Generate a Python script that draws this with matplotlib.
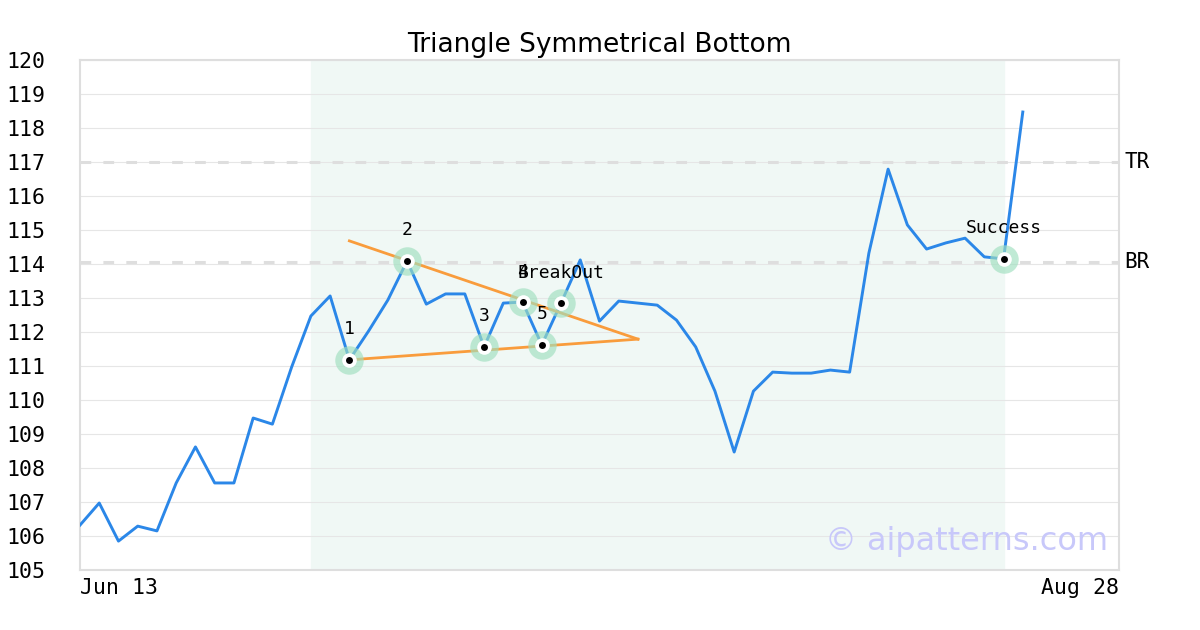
import matplotlib.pyplot as plt

# Dados do gráfico (preço de fechamento por pregão, Jun 13 -> Aug 28)
precos = [106.32, 106.97, 105.85, 106.29, 106.15, 107.56, 108.62, 107.56, 107.56, 109.47,
          109.29, 110.97, 112.47, 113.06, 111.18, 112.03, 112.94, 114.09, 112.82, 113.12,
          113.12, 111.56, 112.85, 112.88, 111.62, 112.85, 114.12, 112.32, 112.91, 112.85,
          112.79, 112.35, 111.56, 110.26, 108.47, 110.26, 110.82, 110.79, 110.79, 110.88,
          110.82, 114.32, 116.79, 115.15, 114.44, 114.62, 114.76, 114.21, 114.15, 118.47]

# Pontos marcados no padrão
pontos_idx = [14, 17, 21, 23, 24, 25, 48]
pontos_txt = ['1', '2', '3', '4', '5', 'BreakOut', 'Success']

# Linhas do triângulo
linha_sup_x = [14, 29]
linha_sup_y = [114.68, 111.79]
linha_inf_x = [14, 29]
linha_inf_y = [111.18, 111.79]

# Níveis de resistência / suporte
nivel_tr = 117.0
nivel_br = 114.07

# Região sombreada do padrão
regiao_inicio = 12
regiao_fim = 48

eixo_x_max = 54
rotulos_x = ['Jun 13', 'Aug 28']

azul = '#2b87e8'
laranja = '#f99c3c'
cinza = '#dedede'

fig = plt.figure(figsize=(12, 6.3), dpi=100)
ax = fig.add_axes([80 / 1200, 60 / 630, 1039 / 1200, 510 / 630])

ax.axvspan(regiao_inicio, regiao_fim, color='#f0f8f5', zorder=0)

for y in range(105, 121):
    ax.axhline(y, color='#e6e6e6', linewidth=0.8, zorder=1)

ax.axhline(nivel_tr, color=cinza, linewidth=2.2, dashes=(3.5, 4), zorder=2)
ax.axhline(nivel_br, color=cinza, linewidth=2.2, dashes=(3.5, 4), zorder=2)

ax.plot(range(len(precos)), precos, color=azul, linewidth=2.1, zorder=3)
ax.plot(linha_sup_x, linha_sup_y, color=laranja, linewidth=2, zorder=3)
ax.plot(linha_inf_x, linha_inf_y, color=laranja, linewidth=2, zorder=3)

# Marcadores (halo verde, círculo branco, ponto preto)
for i, txt in zip(pontos_idx, pontos_txt):
    ax.plot(i, precos[i], 'o', markersize=20.5, color='#9fdfbf', alpha=0.65,
            markeredgewidth=0, zorder=4)
    ax.plot(i, precos[i], 'o', markersize=10.5, color='white', markeredgewidth=0, zorder=5)
    ax.plot(i, precos[i], 'o', markersize=5, color='black', markeredgewidth=0, zorder=6)
    ax.annotate(txt, (i, precos[i]), xytext=(0, 22), textcoords='offset points',
                ha='center', va='center', fontsize=13, family='DejaVu Sans Mono', zorder=7)

ax.text(1.005, nivel_tr, 'TR', transform=ax.get_yaxis_transform(), ha='left', va='center',
        fontsize=15, family='DejaVu Sans Mono')
ax.text(1.005, nivel_br, 'BR', transform=ax.get_yaxis_transform(), ha='left', va='center',
        fontsize=15, family='DejaVu Sans Mono')

ax.text(0.99, 0.055, '© aipatterns.com', transform=ax.transAxes, ha='right', va='center',
        fontsize=23, color='#c8c8fa', zorder=8)

ax.set_xlim(0, eixo_x_max)
ax.set_ylim(105, 120)
ax.set_yticks(range(105, 121))
ax.set_xticks([0, eixo_x_max])
ax.set_xticklabels(rotulos_x)
for lbl, ha in zip(ax.get_xticklabels(), ['left', 'right']):
    lbl.set_horizontalalignment(ha)
ax.tick_params(length=0, labelsize=15.5)
ax.tick_params(axis='y', pad=25)
ax.tick_params(axis='x', pad=6)
for lbl in ax.get_xticklabels() + ax.get_yticklabels():
    lbl.set_family('DejaVu Sans Mono')

for s in ax.spines.values():
    s.set_color(cinza)
    s.set_linewidth(1.5)

ax.set_title('Triangle Symmetrical Bottom', fontsize=19, pad=6)

fig.savefig('out.png', dpi=100)
